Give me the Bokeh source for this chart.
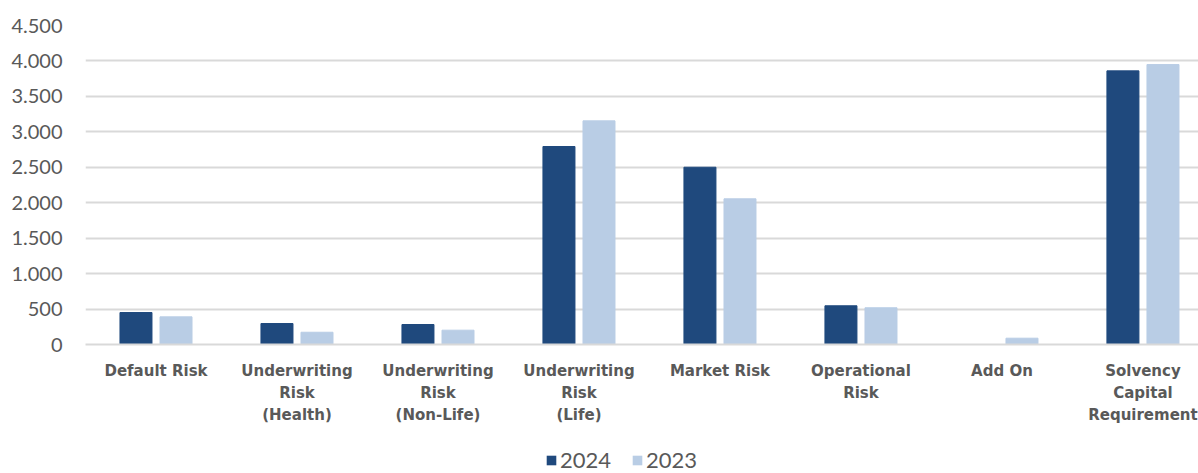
from bokeh.plotting import figure
from bokeh.layouts import column
from bokeh.models import Range1d, Legend, LegendItem, FixedTicker, ColumnDataSource
from bokeh.transform import dodge
from bokeh.embed import file_html
from bokeh.resources import INLINE

categories = ["Default Risk", "Underwriting\nRisk\n(Health)", "Underwriting\nRisk\n(Non-Life)",
              "Underwriting\nRisk\n(Life)", "Market Risk", "Operational\nRisk", "Add On",
              "Solvency\nCapital\nRequirement"]
series_names = ["2024", "2023"]
values_2024 = [451, 296, 282, 2793, 2501, 546, 0, 3860]
values_2023 = [390, 173, 202, 3155, 2055, 518, 89, 3949]
y_ticks = [0, 500, 1000, 1500, 2000, 2500, 3000, 3500, 4000, 4500]
y_tick_labels = ["0", "500", "1.000", "1.500", "2.000", "2.500", "3.000", "3.500", "4.000", "4.500"]

DARK = "#1F497D"
LIGHT = "#B9CDE5"
TXT = "#595959"
GRID = "#D9D9D9"

idx = list(range(len(categories)))
src = ColumnDataSource(dict(x=idx, v24=values_2024, v23=values_2023))

p = figure(width=1198, height=447, output_backend="svg", toolbar_location=None,
           x_range=Range1d(-0.5, 7.394), y_range=Range1d(0, 4500),
           min_border_left=85, min_border_right=0, min_border_top=25, min_border_bottom=103)
p.outline_line_color = None
p.background_fill_color = "white"

r24 = p.vbar(x=dodge("x", -0.142, range=p.x_range), top="v24", width=0.227, source=src,
             fill_color=DARK, line_color=DARK)
r23 = p.vbar(x=dodge("x", 0.142, range=p.x_range), top="v23", width=0.227, source=src,
             fill_color=LIGHT, line_color=LIGHT)

p.xgrid.grid_line_color = None
p.ygrid.grid_line_color = GRID
p.ygrid.grid_line_width = 2
p.yaxis.ticker = FixedTicker(ticks=y_ticks)
p.ygrid.ticker = FixedTicker(ticks=y_ticks)
p.yaxis.major_label_overrides = {t: l for t, l in zip(y_ticks, y_tick_labels)}
p.yaxis.axis_line_color = None
p.yaxis.major_tick_line_color = None
p.yaxis.minor_tick_line_color = None
p.yaxis.major_label_text_font = "Lato"
p.yaxis.major_label_text_font_size = "20px"
p.yaxis.major_label_text_color = TXT
p.yaxis.major_label_standoff = 17

p.xaxis.ticker = FixedTicker(ticks=idx)
p.xaxis.major_label_overrides = {i: c for i, c in zip(idx, categories)}
p.xaxis.axis_line_color = GRID
p.xaxis.axis_line_width = 2
p.xaxis.major_tick_line_color = None
p.xaxis.minor_tick_line_color = None
p.xaxis.major_label_text_font = "DejaVu Sans"
p.xaxis.major_label_text_font_style = "bold"
p.xaxis.major_label_text_font_size = "15px"
p.xaxis.major_label_text_color = TXT
p.xaxis.major_label_text_line_height = 1.23
p.xaxis.major_label_standoff = 11

# legend strip below the chart; its bars lie far outside its ranges so only the legend shows
lg = figure(width=1198, height=26, output_backend="svg", toolbar_location=None,
            x_range=Range1d(100, 101), y_range=Range1d(10000, 10001),
            x_axis_location=None, y_axis_location=None,
            min_border_left=85, min_border_right=0, min_border_top=0, min_border_bottom=0)
lg.outline_line_color = None
lg.xgrid.visible = False
lg.ygrid.visible = False
l24 = lg.vbar(x="x", top="v24", width=0.227, source=src, fill_color=DARK, line_color=None)
l23 = lg.vbar(x="x", top="v23", width=0.227, source=src, fill_color=LIGHT, line_color=None)

legend = Legend(items=[LegendItem(label=series_names[0], renderers=[l24]),
                       LegendItem(label=series_names[1], renderers=[l23])],
                location=(460, 0), orientation="horizontal",
                label_text_font="Lato", label_text_font_size="22px", label_text_color=TXT,
                glyph_width=12, glyph_height=12, label_standoff=3, spacing=20,
                padding=0, margin=0, border_line_color=None, background_fill_alpha=0)
lg.add_layout(legend, "center")

layout = column(p, lg, spacing=0)
open("out.html", "w").write(file_html(layout, INLINE))
